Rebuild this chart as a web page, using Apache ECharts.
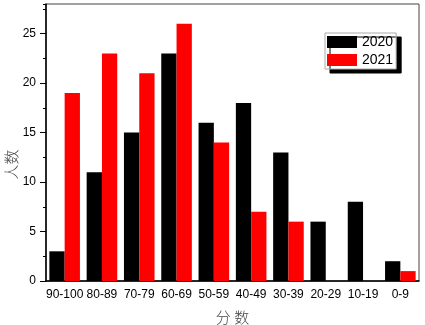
<!DOCTYPE html>
<html>
<head>
<meta charset="utf-8">
<script src="https://cdn.jsdelivr.net/npm/echarts@6/dist/echarts.min.js"></script>
<style>
  html, body { margin: 0; padding: 0; background: #fff; }
  #main { width: 425px; height: 325px; }
</style>
</head>
<body>
<div id="main"></div>
<script>
// 分数段
const scoreBands = ["90-100", "80-89", "70-79", "60-69", "50-59", "40-49", "30-39", "20-29", "10-19", "0-9"];
// 各年人数
const count2020 = [3, 11, 15, 23, 16, 18, 13, 6, 8, 2];
const count2021 = [19, 23, 21, 26, 14, 7, 6, 0, 0, 1];

const labelFont = "Liberation Sans, Arial, sans-serif";
const cjkFont = "Noto Sans CJK SC";

const option = {
  animation: false,
  textStyle: { fontFamily: labelFont },
  grid: {
    left: 46, right: 6, top: 4, bottom: 44,
    outerBoundsMode: "none",
    containLabel: false,
    show: true, borderColor: "#444", borderWidth: 1
  },
  legend: {
    orient: "vertical",
    left: 325, top: 33,
    icon: "rect",
    itemWidth: 30, itemHeight: 12, itemGap: 4,
    padding: [2, 3, 2, 2],
    backgroundColor: "#fff",
    borderColor: "#aaa", borderWidth: 1,
    shadowColor: "#000", shadowBlur: 0, shadowOffsetX: 5, shadowOffsetY: 4,
    textStyle: { fontSize: 14, color: "#000", fontFamily: labelFont },
    data: ["2020", "2021"]
  },
  xAxis: {
    type: "category",
    data: scoreBands,
    name: "分 数",
    nameLocation: "middle",
    nameGap: 29,
    nameMoveOverlap: false,
    nameTextStyle: { fontSize: 15, color: "#444", fontWeight: 300, fontFamily: cjkFont },
    axisLine: { lineStyle: { color: "#000", width: 1.5 } },
    axisTick: { alignWithLabel: true, length: 5, lineStyle: { color: "#000" } },
    axisLabel: { fontSize: 12, color: "#000", margin: 8, interval: 0 }
  },
  yAxis: [
    {
      type: "value",
      min: 0, max: 28, interval: 5,
      name: "人数",
      nameLocation: "middle",
      nameGap: 27,
      nameMoveOverlap: false,
      nameTextStyle: { fontSize: 15, color: "#444", fontWeight: 300, fontFamily: cjkFont, padding: [0, 44, 0, 0] },
      axisLine: { show: true, lineStyle: { color: "#000", width: 1.5 } },
      axisTick: { show: true, length: 6, lineStyle: { color: "#000" } },
      axisLabel: { fontSize: 12, color: "#000", margin: 10, showMaxLabel: false },
      splitLine: { show: false }
    },
    {
      // 次刻度
      type: "value",
      position: "left",
      min: 0, max: 28, interval: 2.5,
      axisLine: { show: false },
      axisTick: { show: true, length: 3, lineStyle: { color: "#000" } },
      axisLabel: { show: false },
      splitLine: { show: false }
    }
  ],
  series: [
    {
      name: "2020",
      type: "bar",
      data: count2020,
      barWidth: "41%",
      barGap: "0%",
      itemStyle: { color: "#000" }
    },
    {
      name: "2021",
      type: "bar",
      data: count2021,
      barWidth: "41%",
      barGap: "0%",
      itemStyle: { color: "#ff0000" }
    }
  ]
};

const myChart = echarts.init(document.getElementById("main"));
myChart.setOption(option);
</script>
</body>
</html>
